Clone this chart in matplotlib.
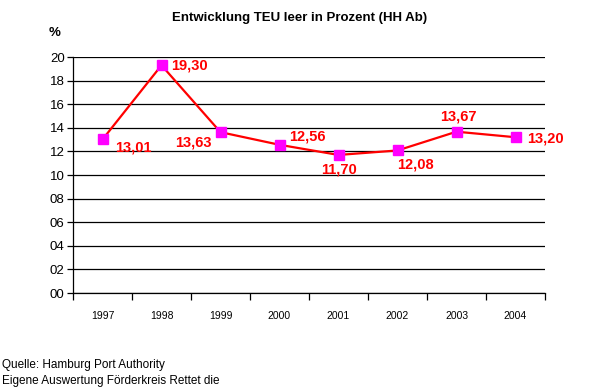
import matplotlib
matplotlib.use("Agg")
import matplotlib.pyplot as plt
from matplotlib.ticker import FuncFormatter, FixedLocator

years = ["1997", "1998", "1999", "2000", "2001", "2002", "2003", "2004"]
values = [13.01, 19.30, 13.63, 12.56, 11.70, 12.08, 13.67, 13.20]
labels = ["13,01", "19,30", "13,63", "12,56", "11,70", "12,08", "13,67", "13,20"]
yticks = list(range(0, 21, 2))

plt.rcParams['font.family'] = ['Liberation Sans', 'DejaVu Sans']

fig = plt.figure(figsize=(5.9, 3.9), dpi=100)
ax = fig.add_axes([73/590, 1-293/390, 472/590, 236/390])

x = list(range(len(years)))
ax.plot(x, values, color='#ff0000', lw=1.6, marker='s', markersize=7,
        markerfacecolor='#ff00ff', markeredgecolor='#ff00ff', zorder=3)

# label offsets (pixels): dx, dy, ha, va
offs = [(13, -8, 'left', 'center'), (10, 0, 'left', 'center'),
        (-9, -10, 'right', 'center'), (10, 8, 'left', 'center'),
        (1, -8, 'center', 'top'), (18, -7, 'center', 'top'),
        (2, 8, 'center', 'bottom'), (12, -1, 'left', 'center')]
for xi, v, lab, (dx, dy, ha, va) in zip(x, values, labels, offs):
    ax.annotate(lab, (xi, v), xytext=(dx, dy), textcoords='offset pixels',
                ha=ha, va=va, color='#ff0000', fontsize=10.5, fontweight='bold')

ax.set_xlim(-0.5, len(years) - 0.5)
ax.set_ylim(0, 20)
ax.set_yticks(yticks)
ax.yaxis.set_major_formatter(FuncFormatter(lambda v, p: f"{int(v):02d}"))
ax.yaxis.grid(True, color='black', lw=0.9)
ax.set_axisbelow(True)

ax.xaxis.set_major_locator(FixedLocator([i - 0.5 for i in range(len(years) + 1)]))
ax.xaxis.set_minor_locator(FixedLocator(x))
ax.set_xticklabels([''] * (len(years) + 1))
ax.set_xticklabels(years, minor=True)
ax.tick_params(axis='x', which='major', length=5, width=0.9, direction='out', color='black')
ax.tick_params(axis='x', which='minor', length=0, pad=13, labelsize=7.5)
ax.tick_params(axis='y', length=4, width=0.9, labelsize=9.5, pad=2)

for s in ['top', 'right']:
    ax.spines[s].set_visible(False)
for s in ['left', 'bottom']:
    ax.spines[s].set_color('black')
    ax.spines[s].set_linewidth(0.9)

fig.text(300/590, 1-18/390, "Entwicklung TEU leer in Prozent (HH Ab)", ha='center', va='center',
         fontsize=9.5, fontweight='bold')
fig.text(55/590, 1-33/390, "%", ha='center', va='center', fontsize=9.5, fontweight='bold')
fig.text(2/590, 1-365/390, "Quelle: Hamburg Port Authority", ha='left', va='center', fontsize=8.5)
fig.text(2/590, 1-381/390, "Eigene Auswertung Förderkreis Rettet die", ha='left', va='center', fontsize=8.5)

fig.savefig("out.png", dpi=100, facecolor='white')
